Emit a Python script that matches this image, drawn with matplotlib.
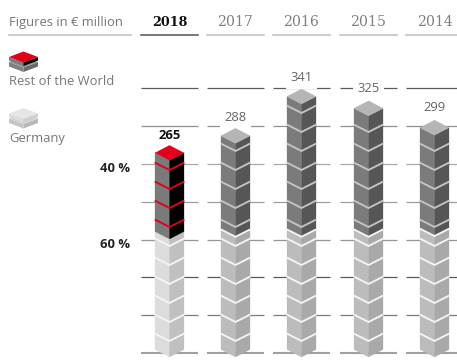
import matplotlib
matplotlib.use("Agg")
import matplotlib.pyplot as plt
from matplotlib.patches import Polygon
from matplotlib.transforms import Affine2D

# data
years = ["2018", "2017", "2016", "2015", "2014"]
totals = [265, 288, 341, 325, 299]
germany = [159, 162, 162, 162, 163]
share_labels = ["40 %", "60 %"]
legend_names = ["Rest of the World", "Germany"]
title = "Figures in € million"

# layout
W, H = 457, 362
PX = 0.742             # pixels per € million
BASE_Y = 357           # pixel row of value 0
HALF = 14.5
RISE = 7.5 / PX
first_seg, seg = 16 / PX, 19 / PX
centers = [169.5, 235.5, 301.5, 368.5, 434.5]
col_left = [141, 207, 273, 340, 406]
col_right = [198, 264, 330, 397, 457]
grid_rows = [88, 126, 164, 202, 240, 277, 315, 353]
grid_cols = ["#5a5a5a", "#909090", "#a8a8a8", "#9e9e9e", "#969696", "#5a5a5a", "#7c7c7c", "#a0a0a0"]
label_off = [6.8, 7.5, 8.2, 9.0, 9.0]
FONT = "Open Sans"

fig = plt.figure(figsize=(W / 100, H / 100), dpi=100)
ax = fig.add_axes([0, 0, 1, 1])
ax.set_xlim(0, W)
ax.set_ylim((BASE_Y - H) / PX, BASE_Y / PX)
ax.axis("off")

# page transform for header and legend, in pixel rows from the top
page = Affine2D().scale(1 / W, -1 / H).translate(0, 1) + fig.transFigure
txt = {"family": FONT, "color": "#777777", "fontsize": 9.4, "va": "center", "transform": page}


def val(row):
    return (BASE_Y - row) / PX


def block(cx, lo, hi, left, right, z=3):
    ax.add_patch(Polygon([(cx - HALF, lo + RISE), (cx, lo), (cx, hi), (cx - HALF, hi + RISE)],
                         fc=left, ec=left, lw=0.2, zorder=z))
    ax.add_patch(Polygon([(cx + HALF, lo + RISE), (cx, lo), (cx, hi), (cx + HALF, hi + RISE)],
                         fc=right, ec=right, lw=0.2, zorder=z))


def chevron(cx, v, color):
    ax.plot([cx - HALF - 0.3, cx, cx + HALF + 0.3], [v + RISE, v, v + RISE], color=color,
            lw=1.35, solid_joinstyle="miter", solid_capstyle="butt", zorder=4)


# horizontal rules behind the columns
for row, col in zip(grid_rows, grid_cols):
    ax.hlines([val(row)] * 5, col_left, col_right, color=col, lw=0.9 if row != 353 else 1.5, zorder=1)

# header
ax.text(9, 22.5, title, ha="left", **txt)
ax.plot([9, 131], [35, 35], color="#bdbdbd", lw=1.1, transform=page)
for i, y in enumerate(years):
    bold = i == 0
    ax.text(centers[i], 22, y, ha="center", va="center", transform=page, family="DejaVu Serif",
            fontsize=9.2 if bold else 10.2, fontweight="bold" if bold else "normal",
            color="#111111" if bold else "#808080")
    ax.plot([col_left[i], col_right[i]], [35, 35], color="#555555" if bold else "#bdbdbd", lw=1.1, transform=page)


# legend icons
def slab(top, th, col_top, col_l, col_r, x0=23.5, hw=14.5, r=5.5):
    sides = top + r
    front = top + 2 * r
    for pts, c in [([(x0 - hw, sides), (x0, front), (x0, front + th), (x0 - hw, sides + th)], col_l),
                   ([(x0 + hw, sides), (x0, front), (x0, front + th), (x0 + hw, sides + th)], col_r),
                   ([(x0, top), (x0 + hw, sides), (x0, front), (x0 - hw, sides)], col_top)]:
        ax.add_patch(Polygon(pts, fc=c, ec="none", transform=page, zorder=3))


slab(56.5, 4.5, "#909090", "#808080", "#6a6a6a")
slab(51.5, 3.5, "#e2001a", "#7d7d7d", "#000000")
slab(113, 4.5, "#d2d2d2", "#c4c4c4", "#b8b8b8")
slab(108, 3.5, "#e6e6e6", "#dcdcdc", "#cfcfcf")
ax.text(9, 81.5, legend_names[0], ha="left", **txt)
ax.text(9, 138.5, legend_names[1], ha="left", **txt)

# columns
for i, (cx, total, ger) in enumerate(zip(centers, totals, germany)):
    hot = i == 0
    rest_l, rest_r = ("#7a7a7a", "#000000") if hot else ("#7b7b7b", "#565656")
    ger_l, ger_r = ("#dcdcdc", "#c0c0c0") if hot else ("#bcbcbc", "#a9a9a9")
    block(cx, 0, ger, ger_l, ger_r)
    block(cx, ger, total, rest_l, rest_r)
    # top face
    top_col = "#e2001a" if hot else "#b5b5b5"
    ax.add_patch(Polygon([(cx, total), (cx + HALF, total + RISE), (cx, total + 2 * RISE), (cx - HALF, total + RISE)],
                         fc=top_col, ec=top_col, lw=0.2, zorder=3))
    # segment joints
    v = first_seg
    while v < total - 3:
        if v < ger - 3:
            chevron(cx, v, "#f4f4f4")
        else:
            chevron(cx, v, "#e2001a" if hot else "#c4c4c4")
        v += seg
    if not hot:
        chevron(cx, ger, "#f4f4f4")
    # value label sits above the back corner of the top face
    box = None if hot else dict(fc="white", ec="none", pad=3.5)
    ax.annotate(str(total), (cx, total + 2 * RISE), xytext=(0, label_off[i]), textcoords="offset points",
                ha="center", va="center", family=FONT, fontsize=9.4,
                fontweight="bold" if hot else "normal", color="#111111" if hot else "#666666",
                bbox=box, zorder=2)

# share of the 2018 total
ax.text(130, 169, share_labels[0], ha="right", va="center", transform=page, family=FONT,
        fontsize=9.4, fontweight="bold", color="#222222")
ax.text(130, 245, share_labels[1], ha="right", va="center", transform=page, family=FONT,
        fontsize=9.4, fontweight="bold", color="#222222")

fig.savefig("out.png", dpi=100)
